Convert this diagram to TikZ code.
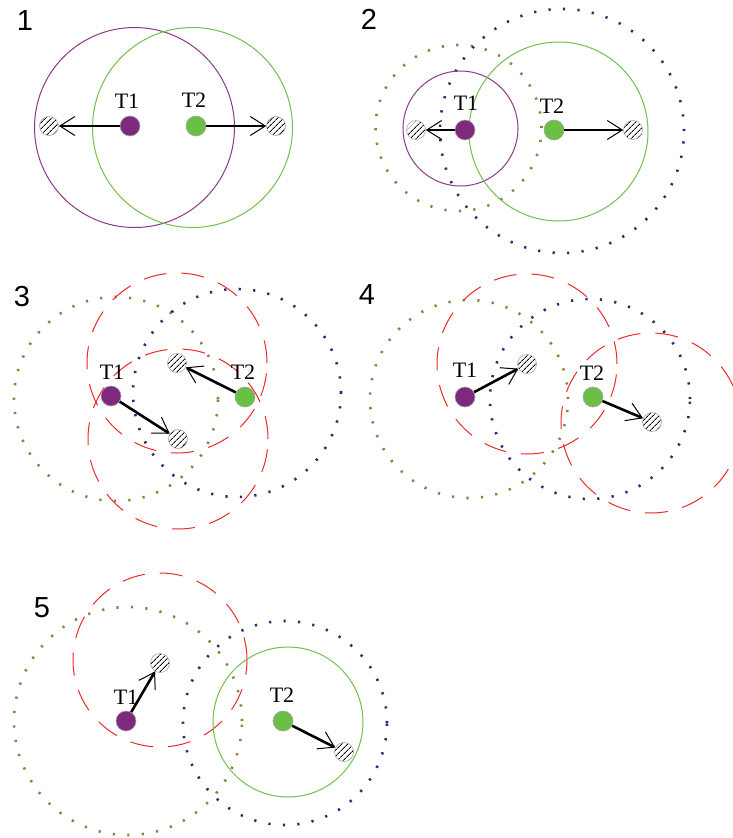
\documentclass[tikz,border=0pt]{standalone}
\usepackage{fontspec}
\setmainfont{Liberation Serif}
\newfontfamily\numfont{Liberation Sans}
\usetikzlibrary{arrows.meta,patterns.meta}
\definecolor{pT}{HTML}{7E287E}
\definecolor{gT}{HTML}{6BBF44}
\definecolor{pC}{HTML}{8A3A8A}
\definecolor{gC}{HTML}{72C04E}
\definecolor{olv}{HTML}{858540}
\definecolor{nvy}{HTML}{2A2A7A}
\definecolor{rdd}{HTML}{F02828}
\tikzset{
  tdot/.style={circle, minimum size=20pt, inner sep=0pt, draw=gray!70, line width=0.6pt},
  tone/.style={tdot, fill=pT},
  ttwo/.style={tdot, fill=gT},
  hatch/.style={circle, minimum size=19pt, inner sep=0pt, draw=gray!70, line width=0.6pt,
    pattern={Lines[angle=45,distance=4pt,line width=0.9pt]}},
  tlab/.style={font=\fontsize{22}{22}\selectfont, inner sep=0pt},
  num/.style={font=\numfont\fontsize{29}{29}\selectfont, inner sep=0pt},
  move/.style={draw, line width=2.6pt, -{Straight Barb[length=15pt,width=19pt,line width=1pt]}},
  purpring/.style={draw=pC, line width=1pt},
  greenring/.style={draw=gC, line width=1pt},
  oliveDots/.style={draw=olv, line width=2.6pt, dash pattern=on 2.2pt off 12.3pt},
  navyDots/.style={draw=nvy, line width=2.6pt, dash pattern=on 2.2pt off 12.3pt},
  redDash/.style={draw=rdd, line width=1pt, dash pattern=on 23pt off 15pt},
}
\begin{document}
\begin{tikzpicture}[x=1pt,y=-1pt]
\useasboundingbox (0,0) rectangle (733,838);
\fill[white] (0,0) rectangle (733,838);

% ---------- Panel 1 ----------
\node[num] (n1) at (25,21) {1};
\draw[purpring] (134.5,127.5) circle[radius=100pt];
\draw[greenring] (192.5,127.5) circle[radius=100pt];
\node[hatch] (h1a) at (49,126) {};
\node[hatch] (h1b) at (276,126) {};
\node[tone] (t1a) at (130,126) {};
\node[ttwo] (t1b) at (196,126) {};
\node[tlab] (l1a) at (127,101) {T1};
\node[tlab] (l1b) at (194,100) {T2};
\draw[move] (t1a) -- (h1a);
\draw[move] (t1b) -- (h1b);

% ---------- Panel 2 ----------
\node[num] (n2) at (369,19) {2};
\draw[oliveDots] (458.5,128) circle[radius=83pt];
\draw[navyDots] (562,131) circle[radius=122pt];
\draw[purpring] (460.5,128.5) circle[radius=57.5pt];
\draw[greenring] (558.5,131.5) circle[radius=89.5pt];
\node[hatch] (h2a) at (416,130) {};
\node[hatch] (h2b) at (633,130) {};
\node[tone] (t2a) at (465,130) {};
\node[ttwo] (t2b) at (554,130) {};
\node[tlab] (l2a) at (466,103) {T1};
\node[tlab] (l2b) at (552,106) {T2};
\draw[move] (t2a) -- (h2a);
\draw[move] (t2b) -- (h2b);

% ---------- Panel 3 ----------
\node[num] (n3) at (22,297) {3};
\draw[oliveDots] (116,399) circle[radius=102pt];
\draw[navyDots] (237,393) circle[radius=104pt];
\draw[redDash] (177,363) circle[radius=90pt];
\draw[redDash] (178,439) circle[radius=90pt];
\node[hatch] (h3a) at (178,439) {};
\node[hatch] (h3b) at (177,363) {};
\node[tone] (t3a) at (111,396) {};
\node[ttwo] (t3b) at (245,397) {};
\node[tlab] (l3a) at (112,372) {T1};
\node[tlab] (l3b) at (243,372) {T2};
\draw[move] (t3a) -- (h3a);
\draw[move] (t3b) -- (h3b);

% ---------- Panel 4 ----------
\node[num] (n4) at (367,295) {4};
\draw[oliveDots] (469,399) circle[radius=99pt];
\draw[navyDots] (590,399) circle[radius=100pt];
\draw[redDash] (527,364) circle[radius=90pt];
\draw[redDash] (651,423) circle[radius=90pt];
\node[hatch] (h4a) at (527,364) {};
\node[hatch] (h4b) at (652,422) {};
\node[tone] (t4a) at (465,397) {};
\node[ttwo] (t4b) at (593,397) {};
\node[tlab] (l4a) at (465,370) {T1};
\node[tlab] (l4b) at (592,373) {T2};
\draw[move] (t4a) -- (h4a);
\draw[move] (t4b) -- (h4b);

% ---------- Panel 5 ----------
\node[num] (n5) at (42,608) {5};
\draw[oliveDots] (128,721) circle[radius=114pt];
\draw[navyDots] (285,723) circle[radius=102pt];
\draw[redDash] (160,660) circle[radius=87pt];
\draw[greenring] (288,722) circle[radius=75pt];
\node[hatch] (h5a) at (160,663) {};
\node[hatch] (h5b) at (344,752) {};
\node[tone] (t5a) at (126,721) {};
\node[ttwo] (t5b) at (283,721) {};
\node[tlab] (l5a) at (126,697) {T1};
\node[tlab] (l5b) at (282,695) {T2};
\draw[move] (t5a) -- (h5a);
\draw[move] (t5b) -- (h5b);
\end{tikzpicture}
\end{document}
